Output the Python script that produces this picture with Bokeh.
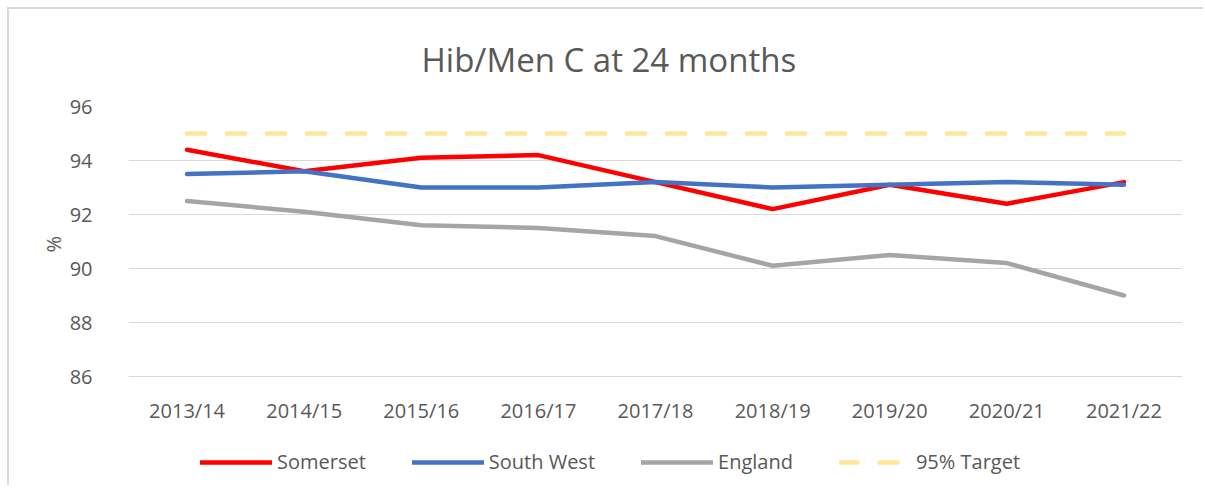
from bokeh.plotting import figure
from bokeh.models import FixedTicker, Legend, LegendItem, Title
from bokeh.core.properties import value
from bokeh.embed import file_html
from bokeh.resources import INLINE

years = ["2013/14", "2014/15", "2015/16", "2016/17", "2017/18",
         "2018/19", "2019/20", "2020/21", "2021/22"]
somerset = [94.4, 93.6, 94.1, 94.2, 93.2, 92.2, 93.1, 92.4, 93.2]
south_west = [93.5, 93.6, 93.0, 93.0, 93.2, 93.0, 93.1, 93.2, 93.1]
england = [92.5, 92.1, 91.6, 91.5, 91.2, 90.1, 90.5, 90.2, 89.0]
target = [95, 95, 95, 95, 95, 95, 95, 95, 95]
y_ticks = [86, 88, 90, 92, 94, 96]
series_names = ["Somerset", "South West", "England", "95% Target"]

FONT = "Open Sans"
TXT = "#595959"

# canvas placed at (9, 9); plot area 86..96 spans 106..376 px
# frame extended to canvas bottom so the legend can sit inside it
H = 478
TOP = 97
PX_PER_UNIT = 27.0
frame_h = H - TOP
y_lo = y_ticks[-1] - frame_h / PX_PER_UNIT

p = figure(x_range=years, y_range=(y_lo, y_ticks[-1]), width=1196, height=H,
           output_backend="svg", toolbar_location=None, x_axis_location=None,
           min_border_left=119, min_border_right=23,
           min_border_top=TOP, min_border_bottom=0)
p.styles = {"margin-left": "7px", "margin-top": "7px",
            "border-left": "2px solid #d9d9d9", "border-top": "2px solid #d9d9d9"}
p.outline_line_color = None
p.background_fill_color = "white"
p.border_fill_color = "white"

p.title.text = "Hib/Men C at 24 months"
p.title.align = "left"
p.title.offset = 293
p.title.text_font = FONT
p.title.text_font_size = "33px"
p.title.text_color = TXT
p.title.text_font_style = "normal"
p.title.standoff = 49

p.xgrid.grid_line_color = None
p.ygrid.grid_line_color = "#d9d9d9"
p.ygrid.grid_line_width = 1

ya = p.yaxis[0]
ya.ticker = FixedTicker(ticks=y_ticks)
ya.axis_line_color = None
ya.major_tick_line_color = None
ya.minor_tick_line_color = None
ya.major_label_text_font = FONT
ya.major_label_text_font_size = "20px"
ya.major_label_text_color = TXT
ya.major_label_standoff = 30

ylab = Title(text="%", align="left", offset=235, text_font=FONT,
             text_font_size="20px", text_color=TXT, text_font_style="normal",
             standoff=0)
p.add_layout(ylab, "left")

# category labels under the 86 line
p.text(x=years, y=[y_ticks[0]] * len(years), text=years, y_offset=20,
       text_align="center", text_baseline="top", text_font=value(FONT),
       text_font_size="20px", text_color=TXT)

W = 4.5
r1 = p.line(years, somerset, line_color="#FF0000", line_width=W, line_join="round", line_cap="round")
r2 = p.line(years, south_west, line_color="#4472C4", line_width=W, line_join="round", line_cap="round")
r3 = p.line(years, england, line_color="#A5A5A5", line_width=W, line_join="round", line_cap="round")
r4 = p.line(years, target, line_color="#FFE699", line_width=W, line_dash="18 22", line_cap="round")

legend = Legend(items=[LegendItem(label=series_names[0], renderers=[r1]),
                       LegendItem(label=series_names[1], renderers=[r2]),
                       LegendItem(label=series_names[2], renderers=[r3]),
                       LegendItem(label=series_names[3], renderers=[r4])],
                orientation="horizontal", location=(72, 12),
                glyph_width=72, glyph_height=20, label_standoff=5, spacing=46,
                label_text_font=FONT, label_text_font_size="20px",
                label_text_color=TXT, border_line_color=None,
                background_fill_alpha=0, padding=0, margin=0)
p.add_layout(legend, "center")

open("out.html", "w").write(file_html(p, INLINE))
